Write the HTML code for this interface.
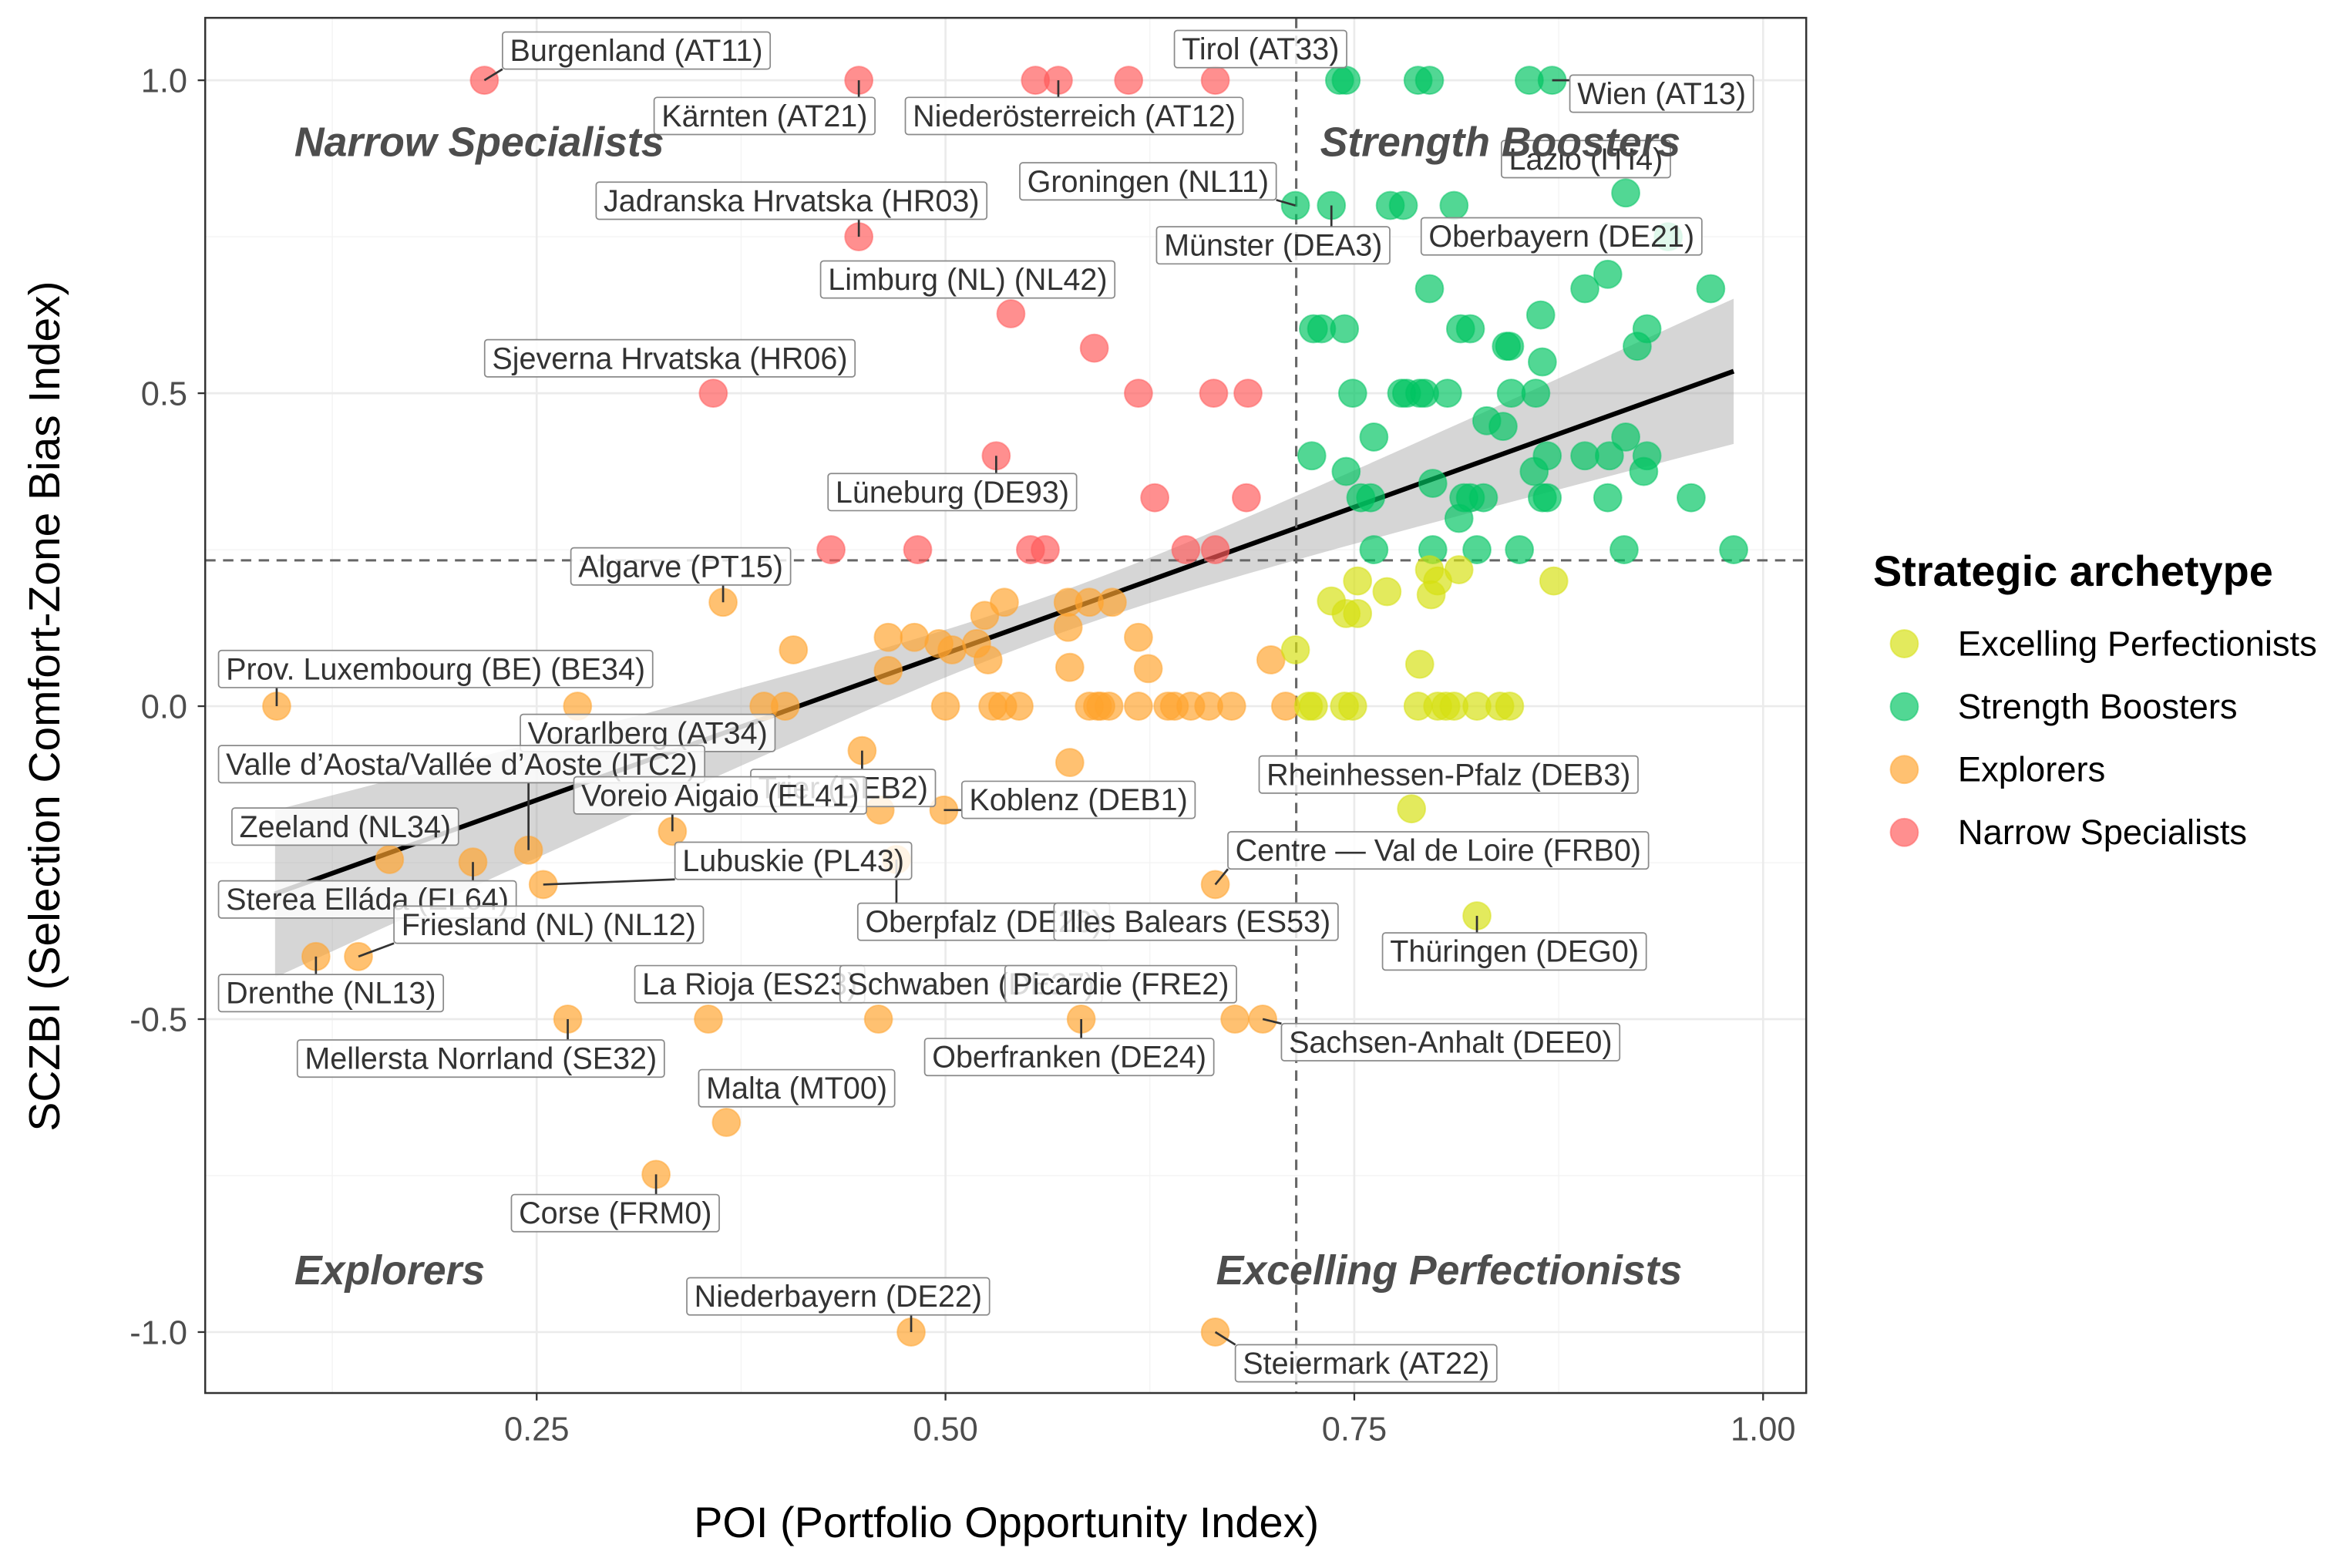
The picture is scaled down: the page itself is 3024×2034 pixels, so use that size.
<!DOCTYPE html>
<html><head><meta charset="utf-8"><style>
html,body{margin:0;padding:0;background:#fff;}
svg{display:block;font-family:"Liberation Sans",Arial,sans-serif;}
</style></head><body>
<svg id="chart" width="3024" height="2034" viewBox="0 0 1568 1054.7" xmlns="http://www.w3.org/2000/svg">
<rect x="0" y="0" width="1568" height="1055" fill="#fff"/>
<g id="grid"></g>
<g id="ribbon"></g>
<g id="refs"></g>
<g id="points"></g>
<g id="leaders"></g>
<g id="labels"></g>
<g id="quad"></g>
<rect x="138" y="12" width="1077" height="925" fill="none" stroke="#333" stroke-width="1.3"/>
<g id="axes"></g>
<text x="677" y="1034" text-anchor="middle" font-size="29" fill="#000">POI (Portfolio Opportunity Index)</text>
<text transform="translate(40,475) rotate(-90)" text-anchor="middle" font-size="29.5" fill="#000">SCZBI (Selection Comfort-Zone Bias Index)</text>
<g id="legend"></g>
</svg>
<script>
// ---- data ----
const groupNames = ["Excelling Perfectionists","Strength Boosters","Explorers","Narrow Specialists"];
const groupColors = ["#d6e010","#00c462","#ffa32e","#ff5a5a"];
const redX = [0.218,0.447,0.555,0.569,0.612,0.665,0.447,0.540,0.591,0.358,0.618,0.664,0.685,0.531,0.628,0.684,0.430,0.483,0.552,0.561,0.647,0.665];
const redY = [1,1,1,1,1,1,0.75,0.627,0.572,0.5,0.5,0.5,0.5,0.4,0.333,0.333,0.25,0.25,0.25,0.25,0.25,0.25];
const greenX = [0.741,0.745,0.789,0.796,0.857,0.871,0.916,0.714,0.736,0.772,0.780,0.811,0.942,0.905,0.796,0.968,0.891,0.725,0.730,0.744,0.815,0.821,0.929,0.864,0.843,0.845,0.923,0.865,0.749,0.779,0.782,0.790,0.793,0.807,0.846,0.861,0.762,0.831,0.841,0.724,0.868,0.891,0.906,0.929,0.916,0.745,0.860,0.927,0.798,0.754,0.760,0.817,0.821,0.829,0.865,0.868,0.905,0.956,0.814,0.762,0.798,0.825,0.851,0.915,0.982];
const greenY = [1,1,1,1,1,1,0.82,0.8,0.8,0.8,0.8,0.8,0.75,0.69,0.667,0.667,0.667,0.603,0.603,0.603,0.603,0.603,0.603,0.625,0.575,0.575,0.575,0.55,0.5,0.5,0.5,0.5,0.5,0.5,0.5,0.5,0.43,0.456,0.447,0.4,0.4,0.4,0.4,0.4,0.43,0.375,0.375,0.375,0.356,0.333,0.333,0.333,0.333,0.333,0.333,0.333,0.333,0.333,0.3,0.25,0.25,0.25,0.25,0.25,0.25];
const yellowX = [0.714,0.736,0.752,0.745,0.752,0.770,0.796,0.801,0.814,0.797,0.872,0.790,0.722,0.725,0.744,0.749,0.789,0.801,0.806,0.811,0.825,0.839,0.845,0.785,0.825];
const yellowY = [0.09,0.168,0.2,0.148,0.148,0.183,0.218,0.2,0.218,0.178,0.2,0.067,0,0,0,0,0,0,0,0,0,0,0,-0.164,-0.335];
const orangeX = [0.091,0.275,0.364,0.407,0.389,0.402,0.465,0.481,0.465,0.496,0.504,0.524,0.536,0.526,0.519,0.500,0.529,0.535,0.545,0.575,0.575,0.588,0.602,0.576,0.588,0.593,0.595,0.600,0.618,0.636,0.640,0.650,0.661,0.675,0.708,0.618,0.624,0.699,0.449,0.576,0.460,0.499,0.333,0.245,0.160,0.211,0.254,0.470,0.665,0.115,0.141,0.269,0.355,0.459,0.583,0.677,0.694,0.366,0.323,0.479,0.665];
const orangeY = [0,0,0.166,0.09,0,0,0.11,0.11,0.057,0.1,0.09,0.145,0.166,0.074,0.1,0,0,0,0,0.166,0.126,0.166,0.166,0.062,0,0,0,0,0,0,0,0,0,0,0,0.11,0.06,0.074,-0.071,-0.09,-0.166,-0.166,-0.2,-0.23,-0.245,-0.249,-0.285,-0.245,-0.285,-0.4,-0.4,-0.5,-0.5,-0.5,-0.5,-0.5,-0.5,-0.665,-0.748,-1,-1];
const xTicks = [0.25,0.5,0.75,1.0];
const xTickLabels = ["0.25","0.50","0.75","1.00"];
const yTicks = [-1,-0.5,0,0.5,1];
const yTickLabels = ["-1.0","-0.5","0.0","0.5","1.0"];
const refX = 0.7145, refY = 0.233;
const fitIntercept = -0.384, fitSlope = 0.936, fitXmin = 0.09, fitXmax = 0.982;
const labelTexts = ["Burgenland (AT11)","Kärnten (AT21)","Niederösterreich (AT12)","Tirol (AT33)","Wien (AT13)","Groningen (NL11)","Lazio (ITI4)","Jadranska Hrvatska (HR03)","Münster (DEA3)","Oberbayern (DE21)","Limburg (NL) (NL42)","Sjeverna Hrvatska (HR06)","Lüneburg (DE93)","Algarve (PT15)","Prov. Luxembourg (BE) (BE34)","Vorarlberg (AT34)","Valle d’Aosta/Vallée d’Aoste (ITC2)","Trier (DEB2)","Voreio Aigaio (EL41)","Koblenz (DEB1)","Rheinhessen-Pfalz (DEB3)","Zeeland (NL34)","Centre — Val de Loire (FRB0)","Lubuskie (PL43)","Sterea Elláda (EL64)","Oberpfalz (DE23)","Illes Balears (ES53)","Friesland (NL) (NL12)","Thüringen (DEG0)","Drenthe (NL13)","La Rioja (ES23)","Schwaben (DE27)","Picardie (FRE2)","Sachsen-Anhalt (DEE0)","Mellersta Norrland (SE32)","Oberfranken (DE24)","Malta (MT00)","Corse (FRM0)","Niederbayern (DE22)","Steiermark (AT22)"];
const labelPX = [0.218,0.447,0.569,0.665,0.871,0.714,0.916,0.447,0.736,0.942,0.540,0.358,0.531,0.364,0.091,0.275,0.245,0.449,0.333,0.499,0.785,0.160,0.665,0.254,0.211,0.470,0.58,0.141,0.825,0.115,0.355,0.459,0.677,0.694,0.269,0.583,0.366,0.323,0.479,0.665];
const labelPY = [1,1,1,1,1,0.8,0.82,0.75,0.8,0.75,0.627,0.5,0.4,0.166,0,0,-0.23,-0.071,-0.2,-0.166,-0.164,-0.245,-0.285,-0.285,-0.249,-0.245,-0.33,-0.4,-0.335,-0.4,-0.5,-0.5,-0.5,-0.5,-0.5,-0.5,-0.665,-0.748,-1,-1];
// label box anchor (pixel layout, not data)
const labelBoxX = [338,440,609,790,1056,686,1010,401,778,956,552,326,557,384,147,350,147,505,386,647,847,156,826,454,147,577,709,265,930,147,427,565,676,862,200,622,470,344,462,831];
const labelBoxY = [34,78,78,33,63,122,107,135,165,159,188,241,331,381,450,493,514,530,535,538,521,556,572,579,605,620,620,622,640,668,662,662,662,701,712,711,732,816,872,917];

// ---- scales ----
const X = v => 361 + (v - 0.25) * 1100;
const Y = v => 475 - v * 421;
const NS = "http://www.w3.org/2000/svg";
function mk(tag, attrs, parent){ const e=document.createElementNS(NS,tag); for(const k in attrs) e.setAttribute(k,attrs[k]); parent.appendChild(e); return e; }

// grid
const grid=document.getElementById('grid');
[0.125,0.375,0.625,0.875].forEach(v=>{ const l=mk('line',{x1:X(v),x2:X(v),y1:12,y2:937,stroke:'#f3f3f3','stroke-width':0.7},grid);
 });
[-0.75,-0.25,0.25,0.75].forEach(v=>{ const l=mk('line',{x1:138,x2:1215,y1:Y(v),y2:Y(v),stroke:'#f3f3f3','stroke-width':0.7},grid);
 });
xTicks.forEach(v=>{ const l=mk('line',{x1:X(v),x2:X(v),y1:12,y2:937,stroke:'#ebebeb','stroke-width':1.4},grid);
 });
yTicks.forEach(v=>{ const l=mk('line',{x1:138,x2:1215,y1:Y(v),y2:Y(v),stroke:'#ebebeb','stroke-width':1.4},grid);
 });

// ribbon + fit
const rib=document.getElementById('ribbon');
const hw = x => Math.sqrt(0.033*0.033 + 0.27*0.27*(x-0.57)*(x-0.57));
let up=[],lo=[];
for(let i=0;i<=60;i++){ const x=fitXmin+(fitXmax-fitXmin)*i/60; const y=fitIntercept+fitSlope*x;
 up.push(X(x).toFixed(1)+','+Y(y+hw(x)).toFixed(1)); lo.unshift(X(x).toFixed(1)+','+Y(y-hw(x)).toFixed(1)); }
const rp=mk('polygon',{points:up.concat(lo).join(' '),fill:'#999','fill-opacity':0.4},rib);
 
const fl=mk('line',{x1:X(fitXmin),y1:Y(fitIntercept+fitSlope*fitXmin),x2:X(fitXmax),y2:Y(fitIntercept+fitSlope*fitXmax),stroke:'#000','stroke-width':3.2},rib);
 

// reference lines
const refs=document.getElementById('refs');
const rv=mk('line',{x1:X(refX),x2:X(refX),y1:12,y2:937,stroke:'#666','stroke-width':1.6,'stroke-dasharray':'7,5'},refs);
 
const rh=mk('line',{x1:138,x2:1215,y1:Y(refY),y2:Y(refY),stroke:'#666','stroke-width':1.6,'stroke-dasharray':'7,5'},refs);
 

// points
const pts=document.getElementById('points');
const series=[[redX,redY,3,'narrow-specialist-point'],[orangeX,orangeY,2,'explorer-point'],[greenX,greenY,1,'strength-booster-point'],[yellowX,yellowY,0,'excelling-perfectionist-point']];
series.forEach(s=>{ s[0].forEach((x,i)=>{ const c=mk('circle',{cx:X(x),cy:Y(s[1][i]),r:9.3,fill:groupColors[s[2]],'fill-opacity':0.68,stroke:groupColors[s[2]],'stroke-opacity':0.5,'stroke-width':1},pts);
   }); });

// labels
const lead=document.getElementById('leaders'), labs=document.getElementById('labels');
labelTexts.forEach((t,i)=>{
 const g=mk('g',{},labs);
  
 const bx=labelBoxX[i], cy=labelBoxY[i];
 const rect=mk('rect',{x:bx,y:cy-12.5,height:25,width:10,rx:2,fill:'#fff','fill-opacity':0.82,stroke:'#8a8a8a','stroke-width':0.9},g);
 const tx=mk('text',{x:bx+5,y:cy+7,'font-size':20.5,fill:'#333'},g); tx.textContent=t;
 const w=tx.getComputedTextLength()+10; rect.setAttribute('width',w);
 const px=X(labelPX[i]), py=Y(labelPY[i]);
 const nx=Math.max(bx,Math.min(bx+w,px)), ny=Math.max(cy-12.5,Math.min(cy+12.5,py));
 if(Math.hypot(nx-px,ny-py)>11){ const l=mk('line',{x1:px,y1:py,x2:nx,y2:ny,stroke:'#333','stroke-width':1.4},lead);
    }
});

// quadrant labels
const quad=document.getElementById('quad');
[["Narrow Specialists",198,105],["Strength Boosters",888,105],["Explorers",198,864],["Excelling Perfectionists",818,864]].forEach(q=>{
 const t=mk('text',{x:q[1],y:q[2],'font-size':27.8,'font-weight':'bold','font-style':'italic',fill:'#4d4d4d'},quad); t.textContent=q[0];
   });

// axes ticks
const ax=document.getElementById('axes');
xTicks.forEach((v,i)=>{ mk('line',{x1:X(v),x2:X(v),y1:937,y2:942,stroke:'#333','stroke-width':1.2},ax);
 const t=mk('text',{x:X(v),y:969,'text-anchor':'middle','font-size':22.5,fill:'#4d4d4d'},ax); t.textContent=xTickLabels[i];
   });
yTicks.forEach((v,i)=>{ mk('line',{x1:133,x2:138,y1:Y(v),y2:Y(v),stroke:'#333','stroke-width':1.2},ax);
 const t=mk('text',{x:126,y:Y(v)+8,'text-anchor':'end','font-size':22.5,fill:'#4d4d4d'},ax); t.textContent=yTickLabels[i];
   });

// legend
const leg=document.getElementById('legend');
const lt=mk('text',{x:1260,y:394,'font-size':29,'font-weight':'bold',fill:'#000'},leg); lt.textContent="Strategic archetype";
 
groupNames.forEach((n,i)=>{ const g=mk('g',{},leg);
  
 const cy=433+i*42.3;
 mk('circle',{cx:1281,cy:cy,r:9.3,fill:groupColors[i],'fill-opacity':0.68,stroke:groupColors[i],'stroke-opacity':0.5},g);
 const t=mk('text',{x:1317,y:cy+8,'font-size':23.5,fill:'#000'},g); t.textContent=n; });
</script>
</body></html>
